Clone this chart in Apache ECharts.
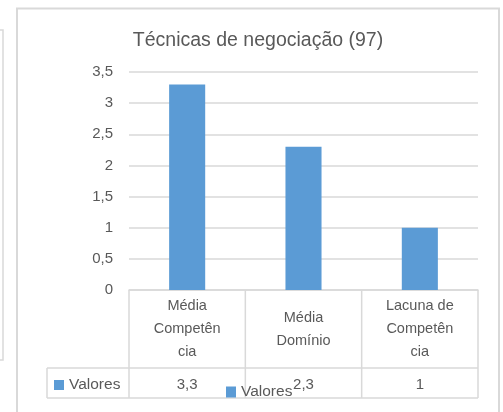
<!DOCTYPE html>
<html>
<head>
<meta charset="utf-8">
<script src="https://cdn.jsdelivr.net/npm/echarts@6/dist/echarts.min.js"></script>
<style>
  html, body { margin: 0; padding: 0; background: #fff; }
  #chart { width: 503px; height: 412px; }
</style>
</head>
<body>
<div id="chart"></div>
<script>
// dados
var categories = ["Média Competência", "Média Domínio", "Lacuna de Competência"];
var catLabels = ["Média\nCompetên\ncia", "Média\nDomínio", "Lacuna de\nCompetên\ncia"];
var values = [3.3, 2.3, 1];
var seriesName = "Valores";
var yTicks = [0, 0.5, 1, 1.5, 2, 2.5, 3, 3.5];

var FONT = "Liberation Sans";
var TXT = "#595959";
var LINE = "#D9D9D9";

// layout da área de plotagem / tabela
var plotLeft = 129, plotRight = 478, plotTop = 72, zeroY = 290;
var headBottom = 368, tableBottom = 398, keyLeft = 47;

var chart = echarts.init(document.getElementById("chart"));

function fmt(v) {
  return String(v).replace(".", ",");
}

// linhas da tabela de dados
var colW = (plotRight - plotLeft) / categories.length;
var tableLines = [];
for (var i = 0; i <= categories.length; i++) {
  var x = plotLeft + i * colW;
  tableLines.push({ type: "line", shape: { x1: x, y1: zeroY, x2: x, y2: tableBottom }, style: { stroke: LINE, lineWidth: 1.5 } });
}
tableLines.push({ type: "line", shape: { x1: keyLeft, y1: headBottom, x2: plotRight, y2: headBottom }, style: { stroke: LINE, lineWidth: 1.5 } });
tableLines.push({ type: "line", shape: { x1: keyLeft, y1: tableBottom, x2: plotRight, y2: tableBottom }, style: { stroke: LINE, lineWidth: 1.5 } });
tableLines.push({ type: "line", shape: { x1: keyLeft, y1: headBottom, x2: keyLeft, y2: tableBottom }, style: { stroke: LINE, lineWidth: 1.5 } });

var opt = {
  animation: false,
  textStyle: { fontFamily: FONT, color: TXT },
  title: {
    text: "Técnicas de negociação (97)",
    left: 258,
    textAlign: "center",
    top: 31,
    padding: 0,
    textStyle: { fontFamily: FONT, fontSize: 19.5, fontWeight: "normal", color: TXT }
  },
  legend: [
    {
      data: [seriesName],
      left: 54, top: 377,
      padding: 0,
      icon: "rect",
      itemWidth: 10, itemHeight: 10,
      textStyle: { fontFamily: FONT, fontSize: 15.5, color: TXT }
    },
    {
      data: [seriesName],
      left: 226, top: 384,
      padding: 0,
      icon: "rect",
      itemWidth: 10, itemHeight: 11,
      textStyle: { fontFamily: FONT, fontSize: 15.5, color: TXT }
    }
  ],
  grid: {
    left: plotLeft,
    right: 503 - plotRight,
    top: plotTop,
    bottom: 412 - zeroY,
    containLabel: false
  },
  xAxis: [
    {
      type: "category",
      data: categories,
      position: "bottom",
      axisLine: { show: true, lineStyle: { color: LINE, width: 1.5 } },
      axisTick: { show: false },
      axisLabel: {
        margin: 39,
        verticalAlign: "middle",
        lineHeight: 23,
        fontSize: 14.5,
        color: TXT,
        fontFamily: FONT,
        interval: 0,
        formatter: function (v, idx) { return catLabels[idx]; }
      }
    },
    {
      type: "category",
      data: values.map(fmt),
      position: "bottom",
      axisLine: { show: false },
      axisTick: { show: false },
      axisLabel: {
        margin: 95,
        verticalAlign: "middle",
        fontSize: 15,
        color: TXT,
        fontFamily: FONT,
        interval: 0
      }
    }
  ],
  yAxis: {
    type: "value",
    min: yTicks[0],
    max: yTicks[yTicks.length - 1],
    interval: 0.5,
    axisLine: { show: false },
    axisTick: { show: false },
    axisLabel: { fontSize: 15, color: TXT, fontFamily: FONT, margin: 16, formatter: fmt },
    splitLine: { lineStyle: { color: LINE, width: 1.5 } }
  },
  series: [
    {
      name: seriesName,
      type: "bar",
      data: values,
      barWidth: "31%",
      itemStyle: { color: "#5B9BD5" }
    }
  ],
  graphic: [
    { type: "rect", shape: { x: 17, y: 8.5, width: 482, height: 430 }, style: { fill: "none", stroke: LINE, lineWidth: 2 }, silent: true },
    { type: "polyline", shape: { points: [[0, 30], [3, 30], [3, 360], [0, 360]] }, style: { fill: "none", stroke: LINE, lineWidth: 1.5 }, silent: true }
  ].concat(tableLines)
};

chart.setOption(opt);
</script>
</body>
</html>
